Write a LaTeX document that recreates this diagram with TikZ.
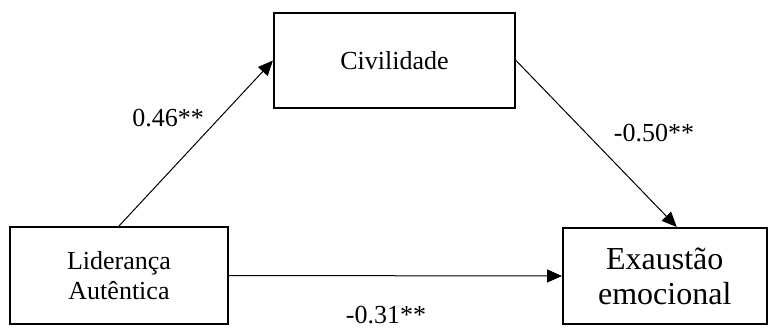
\documentclass[tikz,border=0pt]{standalone}
\usepackage{fontspec}
\setmainfont{Liberation Serif}
\usetikzlibrary{arrows.meta}
\begin{document}
\begin{tikzpicture}[x=1pt,y=-1pt,
  box/.style={draw, line width=2pt, inner sep=0pt, align=center},
  conn/.style={-{Triangle[length=15pt,width=13pt]}, line width=1pt},
  lbl/.style={font=\fontsize{26}{30}\selectfont, inner sep=0pt, anchor=base}]
\useasboundingbox (0,0) rectangle (768,331);
\node[box, minimum width=218pt, minimum height=97pt, font=\fontsize{26}{30}\selectfont] (lid) at (119,275.5) {Liderança\\Autêntica};
\node[box, minimum width=241pt, minimum height=95pt, font=\fontsize{26}{30}\selectfont] (civ) at (394.5,60.5) {Civilidade};
\node[box, minimum width=203.5pt, minimum height=96pt, font=\fontsize{32}{35}\selectfont] (exa) at (664.75,276) {Exaustão\\emocional};
\draw[conn] (lid.north) -- (civ.west);
\draw[conn] (civ.east) -- ([xshift=12pt]exa.north);
\draw[conn] (lid.east) -- (exa.west);
\node[lbl] (l1) at (168,127) {0.46**};
\node[lbl] (l2) at (654,142) {-0.50**};
\node[lbl] (l3) at (386,323) {-0.31**};
\end{tikzpicture}
\end{document}
